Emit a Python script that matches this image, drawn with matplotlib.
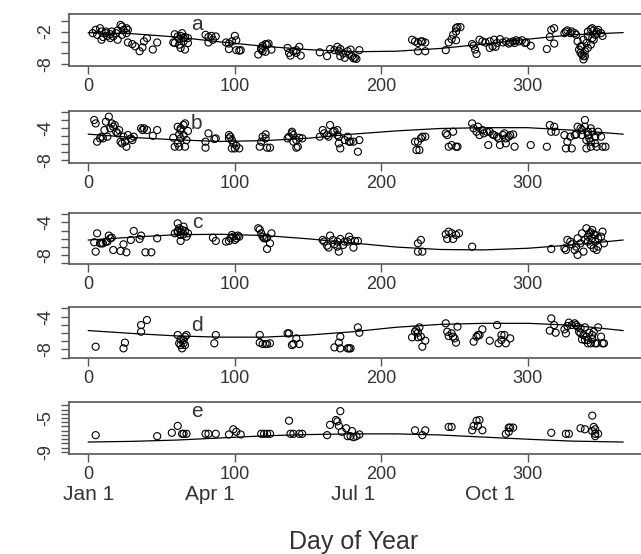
import matplotlib
matplotlib.use("Agg")
import matplotlib.pyplot as plt
from matplotlib.transforms import blended_transform_factory

plt.rcParams['font.family'] = ['Liberation Sans', 'DejaVu Sans']

# ---- panel a ----
day_a = [3, 5, 6, 8, 9, 10, 12, 13, 15, 16, 17, 19, 20, 22, 23, 24, 26, 20, 23, 26, 27, 9, 12, 15,
         27, 30, 32, 35, 37, 38, 40, 44, 47,
         59, 61, 62, 63, 65, 66, 59, 62, 63, 65, 66, 68, 68, 58, 64,
         80, 82, 84, 87, 82, 85, 94, 96, 98, 100, 101, 96, 101, 103, 104,
         116, 118, 119, 121, 122, 123, 119, 121, 125, 118,
         136, 137, 138, 140, 142, 144, 145, 142,
         158, 163, 165, 168, 170, 171, 172, 174, 175, 177, 178, 179, 180, 181, 182, 183, 185, 172,
         221, 223, 225, 227, 228, 230, 225, 230,
         244, 246, 248, 249, 251, 251, 252, 254, 251,
         262, 263, 264, 265, 267, 269, 271, 274, 276, 277, 279, 281, 283, 285, 274, 278,
         287, 288, 290, 291, 292, 294, 296, 298, 299, 302,
         313, 315, 316, 318, 318, 325, 326, 327, 329, 330, 332, 333,
         334, 336, 335, 336, 337, 338, 339, 340, 341, 341, 343, 344, 345, 347, 347, 348, 350, 351,
         344, 341, 338, 345, 346, 343, 339, 338, 337]
val_a = [-2.3, -1.7, -2.6, -1.4, -2.0, -3.0, -2.3, -2.8, -2.5, -2.0, -2.9, -2.3, -1.8, -0.8, -1.1, -1.7, -1.4,
         -3.5, -2.6, -2.3, -1.7, -3.5, -2.0, -3.2,
         -4.0, -4.3, -4.7, -5.6, -4.9, -3.8, -3.2, -5.3, -4.0,
         -2.5, -2.9, -3.4, -2.8, -3.2, -3.0, -4.1, -4.4, -5.0, -3.8, -5.3, -4.1, -3.2, -4.0, -2.3,
         -2.6, -3.0, -2.8, -2.9, -4.0, -3.5, -4.0, -4.2, -3.8, -2.8, -3.6, -5.2, -5.4, -5.5, -5.4,
         -6.2, -5.0, -4.6, -4.3, -4.4, -4.2, -5.6, -5.7, -5.3, -5.3,
         -5.0, -5.9, -6.4, -5.6, -5.9, -4.8, -6.4, -5.4,
         -5.8, -6.5, -5.2, -5.4, -4.8, -5.6, -5.2, -6.0, -6.8, -5.6, -6.2, -5.3, -6.5, -6.9, -6.8, -7.0, -5.4, -6.5,
         -3.5, -3.8, -4.1, -3.8, -3.8, -4.0, -5.6, -5.6,
         -5.4, -4.0, -3.4, -2.6, -2.0, -1.4, -1.2, -1.2, -3.6,
         -4.3, -4.6, -5.3, -6.1, -3.5, -3.8, -4.0, -3.8, -4.7, -3.5, -4.1, -3.4, -4.0, -3.8, -5.0, -4.8,
         -4.2, -4.0, -3.8, -4.1, -3.6, -3.8, -3.6, -4.1, -4.0, -4.6,
         -5.2, -3.0, -1.7, -1.4, -4.2, -2.3, -2.0, -1.8, -2.3, -2.0, -2.3, -2.6,
         -3.8, -4.7, -5.3, -5.9, -6.2, -6.5, -5.6, -4.1, -2.9, -2.0, -1.6, -1.4, -1.8, -2.0, -2.4, -1.7, -2.3, -2.8,
         -3.2, -5.0, -3.5, -3.5, -2.6, -4.4, -6.5, -7.1, -4.7]

# ---- panel b ----
day_b = [4, 5, 6, 8, 9, 10, 11, 12, 13, 14, 15, 16, 17, 18, 19, 20, 21, 22, 23, 24, 25, 26, 27, 29, 30,
         31, 36, 37, 38, 40, 44, 47,
         58, 59, 61, 62, 63, 61, 62, 63, 65, 65, 66, 67, 66, 68, 63,
         80, 82, 80, 86, 87, 96, 97, 96, 98, 99, 100, 101, 103, 98,
         117, 118, 119, 121, 121, 122, 124,
         136, 137, 139, 140, 142, 140, 142, 143, 144, 146, 139,
         158, 160, 161, 163, 164, 165, 167, 168, 170, 170, 171, 172, 171, 175, 177, 178, 179, 181, 184, 185,
         223, 224, 225, 226, 227, 228, 230,
         244, 245, 246, 248, 249, 251, 252,
         262, 263, 265, 266, 267, 269, 270, 272, 273, 274, 276, 277, 279, 280, 281, 283, 284, 285, 287, 288, 290,
         291, 285, 302, 313, 315, 316, 318, 319,
         325, 326, 327, 329, 330, 332, 333, 334, 336, 337, 339, 339, 340, 341, 341, 342, 343, 343, 344, 346,
         346, 347, 348, 350, 351, 353, 343, 337, 340]
val_b = [-3.05, -3.47, -5.73, -5.32, -5.11, -5.32, -4.29, -3.26, -5.11, -2.64, -4.08, -3.47, -3.88, -3.67, -4.5,
         -4.7, -4.29, -5.73, -5.94, -5.11, -5.73, -6.35, -4.91, -5.32, -5.53,
         -5.11, -4.08, -4.29, -4.08, -4.29, -5.0, -4.29,
         -5.24, -6.35, -3.88, -4.83, -4.29, -5.94, -6.35, -5.32, -4.91, -3.67, -3.47, -5.53, -6.35, -4.41, -4.08,
         -6.47, -4.7, -5.73, -5.4, -5.32, -4.91, -5.11, -5.32, -5.53, -5.94, -6.56, -6.23, -6.56, -6.56,
         -6.35, -5.73, -5.11, -4.83, -5.32, -6.47, -6.47,
         -5.32, -5.11, -4.7, -4.91, -5.53, -5.73, -6.47, -6.35, -5.24, -5.32, -4.5,
         -5.11, -4.29, -4.7, -4.91, -5.11, -3.67, -4.5, -4.41, -4.29, -4.91, -5.11, -6.56, -5.94, -5.53, -5.11,
         -5.73, -5.73, -5.73, -6.97, -5.53,
         -5.73, -6.76, -5.73, -6.76, -5.32, -5.11, -5.11,
         -4.7, -4.91, -6.35, -6.14, -4.5, -6.35, -6.35,
         -3.47, -4.08, -4.5, -3.88, -4.91, -4.29, -4.7, -4.5, -6.14, -4.5, -4.83, -4.91, -5.11, -5.32, -6.14,
         -4.91, -4.7, -5.32, -5.11, -4.91, -4.83,
         -6.35, -5.94, -6.14, -6.35, -3.67, -4.5, -3.88, -4.5,
         -4.91, -6.56, -5.73, -5.11, -6.56, -4.91, -4.83, -3.88, -4.08, -4.29, -3.05, -3.88, -6.56, -4.5, -4.91,
         -5.32, -5.73, -6.35, -4.5, -5.11, -5.94, -6.35, -4.5, -5.11, -6.35, -6.35, -4.08, -4.91, -5.53]

# ---- panel c ----
day_c = [4, 5, 6, 8, 9, 10, 12, 13, 14, 15, 16, 17, 22, 24, 26, 29, 31, 35, 36, 39, 43, 47,
         59, 61, 61, 62, 63, 63, 64, 65, 65, 66, 67, 68, 63, 61,
         85, 87, 94, 96, 97, 98, 99, 101, 102, 103, 100,
         116, 117, 118, 120, 121, 122, 124, 122, 125, 119,
         160, 161, 163, 164, 165, 167, 168, 170, 171, 172, 174, 175, 177, 178, 179, 181, 182, 184, 170,
         225, 225, 227, 228,
         244, 245, 246, 248, 249, 251, 253, 262,
         316, 325, 326, 327, 329, 330, 332, 333, 334, 336, 337, 338, 339, 340, 341, 341, 342, 343, 344, 344,
         345, 346, 346, 347, 348, 348, 350, 351, 352, 334, 343, 345]
val_c = [-6.42, -7.56, -5.33, -6.55, -6.55, -6.55, -6.34, -6.34, -5.61, -5.94, -5.86, -7.36, -7.48, -6.67,
         -7.64, -6.14, -5.05, -6.02, -5.61, -7.64, -7.64, -5.94,
         -5.33, -5.21, -4.12, -4.72, -5.13, -5.53, -4.93, -5.45, -4.52, -5.05, -5.74, -5.33, -6.26, -5.05,
         -5.86, -6.26, -6.34, -6.26, -5.94, -5.53, -5.74, -5.94, -5.61, -5.74, -6.14,
         -4.72, -4.88, -5.33, -5.94, -5.94, -5.86, -6.55, -7.23, -5.33, -5.74,
         -6.14, -6.34, -6.83, -7.07, -5.61, -6.14, -6.67, -6.34, -7.56, -6.02, -6.75, -6.34, -6.34, -5.74,
         -6.14, -7.07, -6.26, -6.26, -6.95,
         -7.56, -6.55, -6.14, -7.56,
         -5.45, -6.02, -5.13, -5.33, -6.02, -5.53, -5.33, -6.95,
         -7.23, -7.15, -7.36, -6.14, -6.34, -6.67, -7.36, -6.95, -7.96, -6.55, -5.33, -7.56, -6.14, -4.72,
         -5.74, -6.34, -5.33, -6.75, -5.94, -4.93, -7.15, -5.53, -6.34, -7.36, -5.94, -6.95, -5.74, -5.13,
         -6.55, -5.94, -5.21, -5.45]

# ---- panel d ----
day_d = [5, 24, 25, 36, 36, 40,
         61, 62, 63, 63, 64, 65, 65, 66, 67, 66, 86, 87,
         117, 117, 119, 121, 122, 124, 136, 137, 139, 140, 142, 144,
         168, 171, 172, 172, 177, 178, 179, 184, 185,
         221, 223, 224, 225, 226, 227, 228, 230, 225,
         244, 245, 246, 248, 249, 250, 251, 252,
         263, 265, 266, 267, 269, 274, 279, 280, 282, 284, 285, 288, 282,
         315, 316, 318, 319, 325, 326, 327, 328, 330, 332, 333, 334, 335, 336, 336, 337, 338, 339, 339, 340,
         341, 341, 342, 343, 344, 345, 346, 347, 348, 350, 351, 352, 344]
val_d = [-7.66, -7.86, -7.17, -5.03, -5.84, -4.42,
         -6.24, -7.25, -6.77, -7.46, -7.86, -7.25, -6.85, -7.46, -6.24, -6.44, -7.25, -6.24,
         -6.24, -7.17, -7.33, -7.33, -7.33, -7.25, -6.04, -6.04, -7.46, -7.33, -6.65, -7.33,
         -7.74, -7.17, -6.44, -7.86, -7.86, -7.86, -7.86, -5.31, -5.96,
         -6.52, -5.84, -5.63, -5.96, -5.31, -6.44, -7.66, -6.93, -6.52,
         -4.82, -5.84, -6.36, -6.04, -6.44, -6.65, -7.17, -5.23,
         -7.05, -6.44, -6.24, -6.24, -5.55, -6.93, -5.03, -7.25, -6.24, -6.24, -7.25, -6.65, -6.85,
         -5.71, -4.22, -5.03, -5.96, -5.55, -6.04, -5.15, -4.74, -5.03, -4.82, -5.03, -5.23, -5.84, -6.04,
         -5.43, -6.77, -6.24, -5.31, -6.85, -6.44,
         -7.25, -6.85, -5.96, -7.25, -6.77, -5.84, -7.25, -7.25, -5.31, -6.44, -7.25, -7.25, -6.24]

# ---- panel e ----
day_e = [5, 47, 57, 61, 64, 65, 67, 80, 82, 87, 96, 99, 101, 104, 118, 120, 122, 124,
         137, 138, 140, 144, 146, 163, 165, 169, 170, 171, 172, 173, 176, 177, 179, 180, 181, 183, 185,
         223, 228, 230, 246, 248, 262, 263, 265, 266, 267, 269, 285, 287, 288, 290, 287,
         316, 326, 328, 336, 339, 344, 344, 345, 346, 346, 348, 346]
val_e = [-7.02, -7.14, -6.74, -5.93, -6.86, -6.86, -6.86, -6.86, -6.86, -6.86, -6.94, -6.33, -6.62, -6.94,
         -6.86, -6.86, -6.86, -6.86,
         -5.32, -6.86, -6.86, -6.86, -6.86, -7.02, -5.81, -5.24, -5.4, -5.93, -4.19, -6.62, -6.21, -7.14,
         -7.14, -6.54, -7.26, -7.14, -6.94,
         -6.45, -7.02, -6.45, -6.05, -6.05, -6.45, -5.93, -5.32, -5.93, -5.24, -6.45, -6.86, -6.13, -6.13,
         -6.13, -6.62,
         -6.74, -6.86, -6.86, -6.21, -6.33, -4.72, -6.54, -6.05, -6.86, -6.33, -6.86, -7.14]

fit_day = [0, 30, 60, 90, 120, 150, 180, 210, 240, 270, 300, 330, 365]
fit_a = [-2.2, -2.4, -3.0, -3.9, -4.7, -5.3, -5.7, -5.6, -5.1, -4.3, -3.4, -2.6, -2.2]
fit_b = [-4.8, -5.2, -5.5, -5.7, -5.6, -5.3, -4.8, -4.4, -4.1, -4.0, -4.0, -4.3, -4.8]
fit_c = [-6.15, -5.8, -5.5, -5.45, -5.6, -6.0, -6.5, -7.0, -7.3, -7.35, -7.15, -6.75, -6.15]
fit_d = [-5.7, -6.05, -6.35, -6.5, -6.5, -6.25, -5.85, -5.3, -4.95, -4.82, -4.82, -5.05, -5.7]
fit_e = [-7.83, -7.75, -7.6, -7.35, -7.1, -6.95, -6.87, -6.87, -7.0, -7.25, -7.5, -7.72, -7.83]

panel_names = ['a', 'b', 'c', 'd', 'e']
ylims = [(-8.3, 1.2), (-8.4, -1.9), (-9.1, -2.9), (-9.07, -2.8), (-9.24, -3.08)]
yticks = [[-8, -6, -4, -2, 0], [-8, -7, -6, -5, -4, -3, -2], [-9, -8, -7, -6, -5, -4, -3],
          [-9, -8, -7, -6, -5, -4, -3],
          [-9, -8.5, -8, -7.5, -7, -6.5, -6, -5.5, -5, -4.5, -4, -3.5]]
ylabeled = [(-8, -2), (-8, -4), (-8, -4), (-8, -4), (-9, -5)]
letter_y = [0.79, 0.75, 0.81, 0.645, 0.82]

month_days = [0, 83, 181, 274]
month_names = ['Jan 1', 'Apr 1', 'Jul 1', 'Oct 1']

# axes boxes in pixels (top, bottom) of a 641x554 figure
W, H = 641, 554
boxes = [(14, 66), (110.7, 163.3), (213.3, 264.3), (306.7, 358.3), (401.7, 454)]

fig = plt.figure(figsize=(W / 100, H / 100), dpi=100)
data = [(day_a, val_a, fit_a), (day_b, val_b, fit_b), (day_c, val_c, fit_c),
        (day_d, val_d, fit_d), (day_e, val_e, fit_e)]

box_col = '#555555'
txt_col = '#333333'
for i in range(5):
    top, bot = boxes[i]
    ax = fig.add_axes([69 / W, 1 - bot / H, (645 - 69) / W, (bot - top) / H])
    days, vals, fit = data[i]
    ax.plot(fit_day, fit, color='black', lw=0.9)
    ax.scatter(days, vals, s=26, facecolors='none', edgecolors='black', linewidths=0.8)
    ax.set_xlim(-13.2, 380)
    ax.set_ylim(*ylims[i])
    ax.set_xticks([0, 100, 200, 300])
    ax.set_yticks(yticks[i])
    ax.set_yticklabels([str(int(t)) if t in ylabeled[i] else '' for t in yticks[i]],
                       rotation=90, va='center')
    for s in ax.spines.values():
        s.set_color(box_col)
        s.set_linewidth(1.2)
    ax.tick_params(direction='out', length=5.5, width=1, color=box_col,
                   labelsize=13, labelcolor=txt_col)
    ax.tick_params(axis='x', pad=3)
    ax.tick_params(axis='y', pad=5)
    ax.text(0.222, letter_y[i], panel_names[i], transform=ax.transAxes,
            ha='center', va='center', fontsize=15, color=txt_col)

tr = blended_transform_factory(ax.transData, fig.transFigure)
for d, name in zip(month_days, month_names):
    fig.text(d, 1 - 495 / H, name, transform=tr, ha='center', va='center',
             fontsize=15, color=txt_col)
fig.text(0.551, 1 - 541.7 / H, 'Day of Year', ha='center', va='center',
         fontsize=18, color=txt_col)

fig.savefig('out.png', dpi=100)
